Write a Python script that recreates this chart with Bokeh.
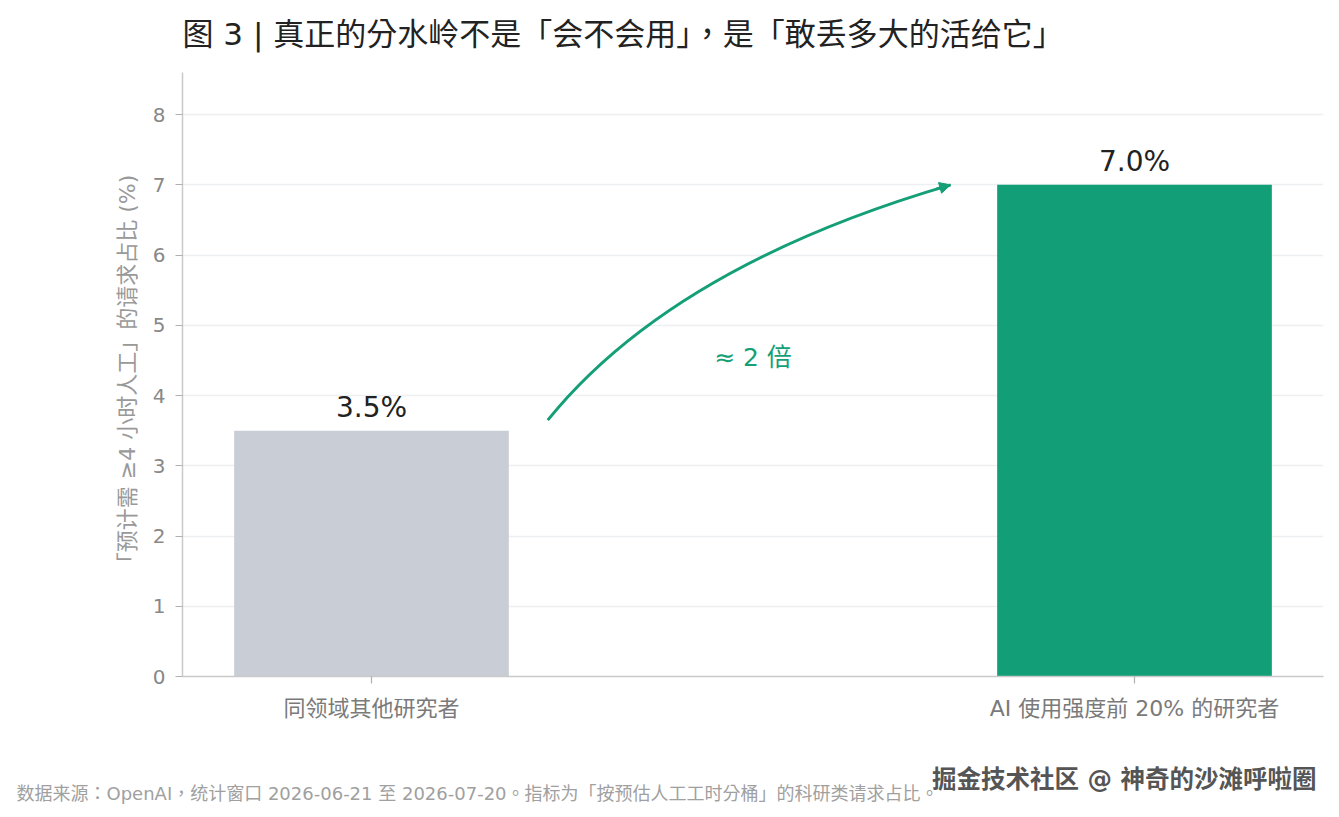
from bokeh.plotting import figure
from bokeh.layouts import column
from bokeh.models import Range1d, FixedTicker, Label, Arrow, NormalHead
from bokeh.core.properties import value
from bokeh.embed import file_html
from bokeh.resources import INLINE

categories = ["同领域其他研究者", "AI 使用强度前 20% 的研究者"]
shares = [3.5, 7.0]
bar_labels = ["3.5%", "7.0%"]
bar_colors = ["#c8cdd6", "#129e76"]
y_ticks = [0, 1, 2, 3, 4, 5, 6, 7, 8]
title_text = "图 3 | 真正的分水岭不是「会不会用」，是「敢丢多大的活给它」"
y_label = "「预计需 ≥4 小时人工」的请求占比 (%)"
note_text = "≈ 2 倍"
footer_text = "数据来源：OpenAI，统计窗口 2026-06-21 至 2026-07-20。指标为「按预估人工工时分桶」的科研类请求占比。"
watermark_text = "掘金技术社区 @ 神奇的沙滩呼啦圈"

FONT = "'DejaVu Sans', 'Noto Sans CJK TC', sans-serif"
GREEN = "#149f77"
W = 1331


def strip(height):
    s = figure(width=W, height=height, output_backend="svg", toolbar_location=None,
               x_range=Range1d(0, W), y_range=Range1d(height, 0),
               x_axis_type=None, y_axis_type=None,
               min_border_left=0, min_border_right=0, min_border_top=0, min_border_bottom=0)
    s.outline_line_color = None
    s.grid.visible = False
    s.border_fill_color = "white"
    s.background_fill_color = "white"
    s.frame_align = False
    return s


xs = list(range(len(categories)))

# header strip with the title (pixel coordinates, y downward)
h = strip(72)
h.text(x=[182], y=[33], text=[title_text], text_align="left", text_baseline="middle",
       text_font=value(FONT), text_font_size="31px", text_color="#222222")

p = figure(width=W, height=668, output_backend="svg", toolbar_location=None,
           x_range=Range1d(-0.2477, 1.2477), y_range=Range1d(0, 8.6),
           min_border_left=182, min_border_right=8, min_border_top=0, min_border_bottom=64)
p.frame_align = False
p.outline_line_color = None
p.background_fill_color = "white"
p.border_fill_color = "white"

p.vbar(x=xs, top=shares, width=0.36, fill_color=bar_colors, line_color=None)
p.text(x=xs, y=shares, text=bar_labels, text_align="center", text_baseline="bottom",
       y_offset=-7, text_font=value(FONT), text_font_size="28px", text_color="#222222")

# axes
p.xaxis.ticker = FixedTicker(ticks=xs)
p.xaxis.major_label_overrides = {i: c for i, c in enumerate(categories)}
p.yaxis.ticker = FixedTicker(ticks=y_ticks)
for ax in (p.xaxis, p.yaxis):
    ax.axis_line_color = "#c9c9c9"
    ax.axis_line_width = 1.5
    ax.major_tick_line_color = "#b0b0b0"
    ax.major_tick_line_width = 1.2
    ax.major_tick_out = 7
    ax.major_tick_in = 0
    ax.minor_tick_line_color = None
    ax.major_label_text_font = FONT
    ax.major_label_text_color = "#888888"
p.xaxis.major_label_text_font_size = "22px"
p.xaxis.major_label_text_color = "#7a7a7a"
p.xaxis.major_label_standoff = 12
p.yaxis.major_label_text_font_size = "20px"
p.yaxis.major_label_standoff = 10
p.yaxis.axis_label = y_label
p.yaxis.axis_label_text_font = FONT
p.yaxis.axis_label_text_font_size = "22px"
p.yaxis.axis_label_text_font_style = "normal"
p.yaxis.axis_label_text_color = "#999999"
p.yaxis.axis_label_standoff = 10

p.xgrid.grid_line_color = None
p.ygrid.grid_line_color = "#edf0f2"
p.ygrid.grid_line_width = 1.5

# curved arrow from bar 1 to bar 2
x0, y0 = xs[0] + 0.231, shares[0] + 0.15
x1, y1 = xs[1] - 0.241, shares[1]
cx, cy = xs[0] + 0.394, 5.84
p.quadratic(x0=[x0], y0=[y0], x1=[x1], y1=[y1], cx=[cx], cy=[cy], line_color=GREEN, line_width=3)
p.add_layout(Arrow(end=NormalHead(size=11, fill_color=GREEN, line_color=GREEN, line_width=1),
                   x_start=x1 - 0.365 * 0.05, y_start=y1 - 1.13 * 0.05, x_end=x1, y_end=y1,
                   line_color=GREEN, line_width=3))
p.add_layout(Label(x=(xs[0] + xs[1]) / 2, y=4.54, text=note_text, text_align="center",
                   text_baseline="middle", text_font=FONT, text_font_size="25px", text_color=GREEN))

# footer strip with watermark and source note (pixel coordinates, y downward)
f = strip(72)
f.text(x=[1316], y=[39], text=[watermark_text], text_align="right", text_baseline="middle",
       text_font=value(FONT), text_font_size="24.5px", text_font_style="bold", text_color="#555555")
f.text(x=[16], y=[53], text=[footer_text], text_align="left", text_baseline="middle",
       text_font=value(FONT), text_font_size="18px", text_color="#a0a0a0")

layout = column(h, p, f, spacing=0)
open("out.html", "w").write(file_html(layout, INLINE))
